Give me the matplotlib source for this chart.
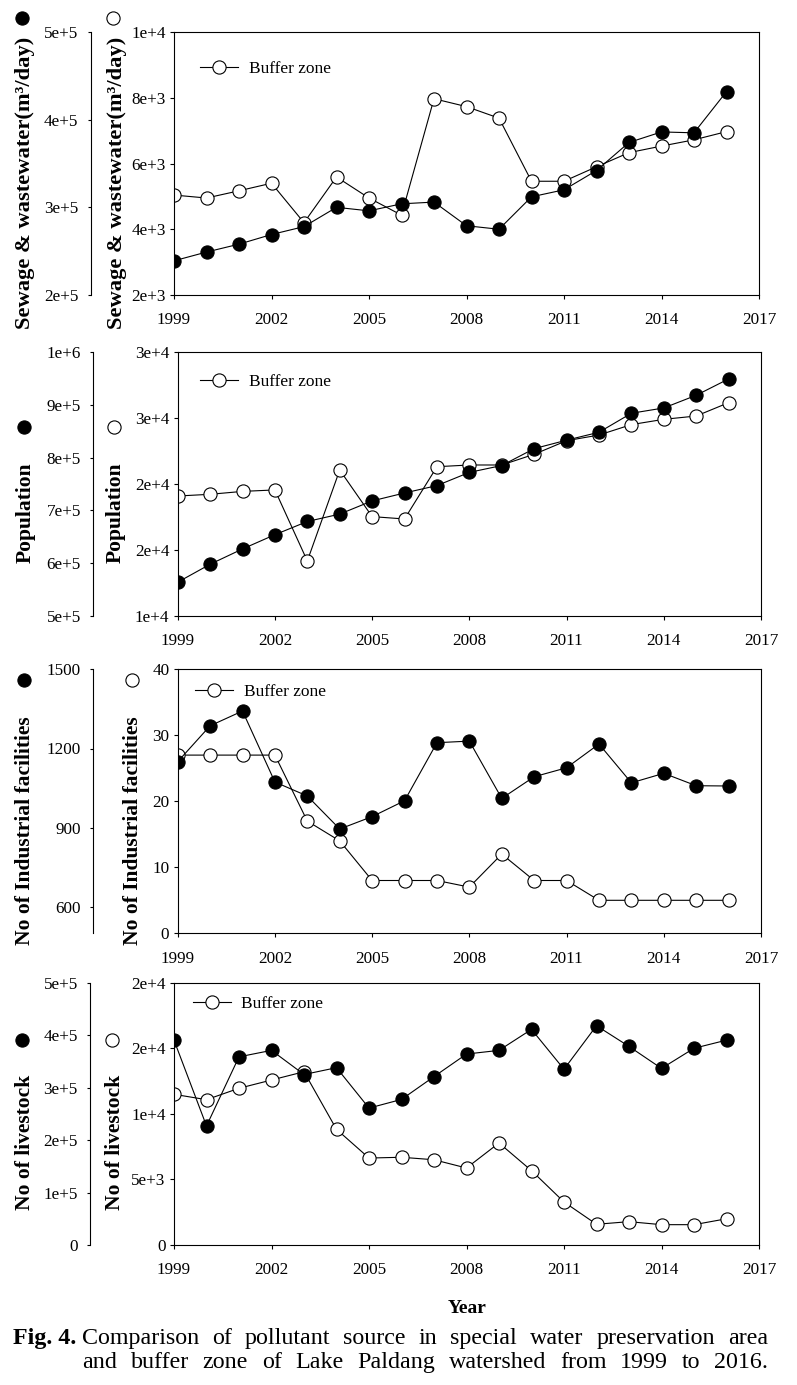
import math

import matplotlib
matplotlib.use("Agg")
from matplotlib import pyplot as plt
from matplotlib.lines import Line2D
from matplotlib.ticker import FuncFormatter

plt.rcParams["font.family"] = ["Liberation Serif", "DejaVu Sans"]

W, H = 797, 1385

years = list(range(1999, 2017))

# filled circles = special water preservation area (outer axis)
# open circles = buffer zone (inner axis)
sewage_special = [239000, 249000, 258000, 269000, 278000, 300000, 296000, 304000, 306000,
                  279000, 275000, 312000, 320000, 342000, 374000, 386000, 385000, 432000]
sewage_buffer = [5040, 4950, 5170, 5400, 4200, 5590, 4950, 4430, 7970,
                 7730, 7380, 5460, 5460, 5900, 6330, 6530, 6720, 6970]

population_special = [564000, 598000, 627000, 654000, 679000, 693000, 718000, 733000, 747000,
                      772000, 785000, 817000, 833000, 848000, 884000, 894000, 918000, 949000]
population_buffer = [19090, 19220, 19440, 19550, 14170, 21060, 17530, 17350, 21310,
                     21440, 21440, 22250, 23280, 23710, 24500, 24900, 25150, 26160]

industry_special = [1150, 1286, 1342, 1073, 1020, 895, 942, 1002, 1222,
                    1228, 1011, 1093, 1127, 1217, 1070, 1106, 1059, 1058]
industry_buffer = [27, 27, 27, 27, 17, 14, 8, 8, 8, 7, 12, 8, 8, 5, 5, 5, 5, 5]

livestock_special = [390500, 227000, 358700, 371000, 325000, 338000, 261000, 277500, 321000,
                     364000, 371000, 411000, 335000, 418000, 378500, 336600, 375000, 390500]
livestock_buffer = [11490, 11080, 11950, 12580, 13210, 8820, 6630, 6690, 6500,
                    5870, 7780, 5670, 3280, 1580, 1780, 1550, 1550, 2000]

xticks = list(range(1999, 2018, 3))


def sci_label(v, pos):
    # SigmaPlot style "3e+4", rounding half up
    if v == 0:
        return "0"
    exp = int(math.floor(math.log10(abs(v))))
    mant = int(math.floor(v / 10 ** exp + 0.5))
    if mant == 10:
        mant, exp = 1, exp + 1
    return f"{mant}e+{exp}"


def plain_label(v, pos):
    return f"{v:.0f}"


def fx(x):
    return x / W


def fy(y):
    return 1 - y / H


panels = [
    dict(special=sewage_special, buffer=sewage_buffer,
         label="Sewage & wastewater(m\u00b3/day)", lab_size=16.2,
         ylim=(2000, 10000), yticks=range(2000, 10001, 2000),
         ylim2=(2e5, 5e5), yticks2=[2e5, 3e5, 4e5, 5e5], fmt=sci_label,
         box=(174, 32, 759, 295), spine2=91,
         lab2_x=25, lab_x=117, lab_y=183, mark_y=18, mark2_x=21.7, mark_x=113.3,
         leg=(200, 69.3)),
    dict(special=population_special, buffer=population_buffer,
         label="Population", lab_size=15.5,
         ylim=(10000, 30000), yticks=range(10000, 30001, 5000),
         ylim2=(5e5, 1e6), yticks2=[5e5, 6e5, 7e5, 8e5, 9e5, 1e6], fmt=sci_label,
         box=(177.7, 352, 761, 616), spine2=93.3,
         lab2_x=25.5, lab_x=115.5, lab_y=513, mark_y=427, mark2_x=24.3, mark_x=114.3,
         leg=(200, 382)),
    dict(special=industry_special, buffer=industry_buffer,
         label="No of Industrial facilities", lab_size=15.5,
         ylim=(0, 40), yticks=range(0, 41, 10),
         ylim2=(500, 1500), yticks2=[600, 900, 1200, 1500], fmt=plain_label,
         box=(177.7, 669.3, 761, 933.3), spine2=93.3,
         lab2_x=25.5, lab_x=133, lab_y=831, mark_y=680, mark2_x=24.3, mark_x=131.7,
         leg=(195, 692)),
    dict(special=livestock_special, buffer=livestock_buffer,
         label="No of livestock", lab_size=15.5,
         ylim=(0, 20000), yticks=range(0, 20001, 5000),
         ylim2=(0, 5e5), yticks2=[0, 1e5, 2e5, 3e5, 4e5, 5e5], fmt=sci_label,
         box=(174, 982.7, 759, 1245), spine2=90.3,
         lab2_x=25, lab_x=115, lab_y=1142.5, mark_y=1040, mark2_x=21.7, mark_x=112.3,
         leg=(192.7, 1004)),
]

fig = plt.figure(figsize=(W / 100, H / 100), dpi=100)

line_kw = dict(color="black", linewidth=0.8, marker="o", markersize=9.5,
               markeredgecolor="black", markeredgewidth=0.8)

for p in panels:
    left, top, right, bottom = p["box"]
    ax = fig.add_axes([fx(left), fy(bottom), (right - left) / W, (bottom - top) / H])
    ax2 = ax.twinx()

    # buffer zone on inner axis, special area on outer axis
    ax.plot(years, p["buffer"], markerfacecolor="white", label="Buffer zone", **line_kw)
    ax2.plot(years, p["special"], markerfacecolor="black", **line_kw)

    ax.set_xlim(1999, 2017)
    ax.set_xticks(xticks)
    ax.set_ylim(*p["ylim"])
    ax.set_yticks(list(p["yticks"]))
    ax.yaxis.set_major_formatter(FuncFormatter(p["fmt"]))
    for s in ax.spines.values():
        s.set_linewidth(0.8)
    ax.tick_params(axis="both", direction="out", length=3, width=0.8, labelsize=12.3)
    ax.tick_params(axis="y", pad=3)
    ax.tick_params(axis="x", pad=9.5)

    ax2.set_ylim(*p["ylim2"])
    ax2.set_yticks(p["yticks2"])
    ax2.yaxis.set_major_formatter(FuncFormatter(p["fmt"]))
    for side in ["top", "bottom", "right"]:
        ax2.spines[side].set_visible(False)
    ax2.spines["left"].set_visible(True)
    ax2.spines["left"].set_linewidth(0.8)
    ax2.spines["left"].set_position(("axes", (p["spine2"] - left) / (right - left)))
    ax2.yaxis.set_ticks_position("left")
    ax2.tick_params(axis="y", direction="out", length=2.5, width=0.8, labelsize=12.3, pad=6.5)

    ax.legend(loc="center left", bbox_to_anchor=(fx(p["leg"][0]), fy(p["leg"][1])),
              bbox_transform=fig.transFigure, frameon=False, fontsize=12.5,
              borderpad=0, borderaxespad=0, handlelength=2.2, handletextpad=0.6)

    # rotated axis titles with their symbol above
    for lx in (p["lab2_x"], p["lab_x"]):
        fig.text(fx(lx), fy(p["lab_y"]), p["label"], rotation=90, ha="center", va="center",
                 fontsize=p["lab_size"], fontweight="bold")
    fig.add_artist(Line2D([fx(p["mark2_x"])], [fy(p["mark_y"])], transform=fig.transFigure,
                          linestyle="none", marker="o", markersize=9.5,
                          markerfacecolor="black", markeredgecolor="black",
                          markeredgewidth=0.8))
    fig.add_artist(Line2D([fx(p["mark_x"])], [fy(p["mark_y"])], transform=fig.transFigure,
                          linestyle="none", marker="o", markersize=9.5,
                          markerfacecolor="white", markeredgecolor="black",
                          markeredgewidth=0.8))

fig.text(fx(467), fy(1313), "Year", ha="center", va="baseline", fontsize=14,
         fontweight="bold")

# caption, justified word by word
caption_lines = [
    (1344, "Comparison of pollutant source in special water preservation area".split()),
    (1368, "and buffer zone of Lake Paldang watershed from 1999 to 2016.".split()),
]
fig.text(fx(13), fy(1344), "Fig. 4.", ha="left", va="baseline", fontsize=17.3,
         fontweight="bold")

placed = []
for y, words in caption_lines:
    texts = [fig.text(0, fy(y), w, ha="left", va="baseline", fontsize=17.3) for w in words]
    placed.append(texts)

fig.canvas.draw()
renderer = fig.canvas.get_renderer()
x0, x1 = 82, 768
for texts in placed:
    widths = [t.get_window_extent(renderer).width for t in texts]
    gap = (x1 - x0 - sum(widths)) / (len(texts) - 1)
    x = x0
    for t, w in zip(texts, widths):
        t.set_x(fx(x))
        x += w + gap

fig.savefig("out.png", dpi=100)
